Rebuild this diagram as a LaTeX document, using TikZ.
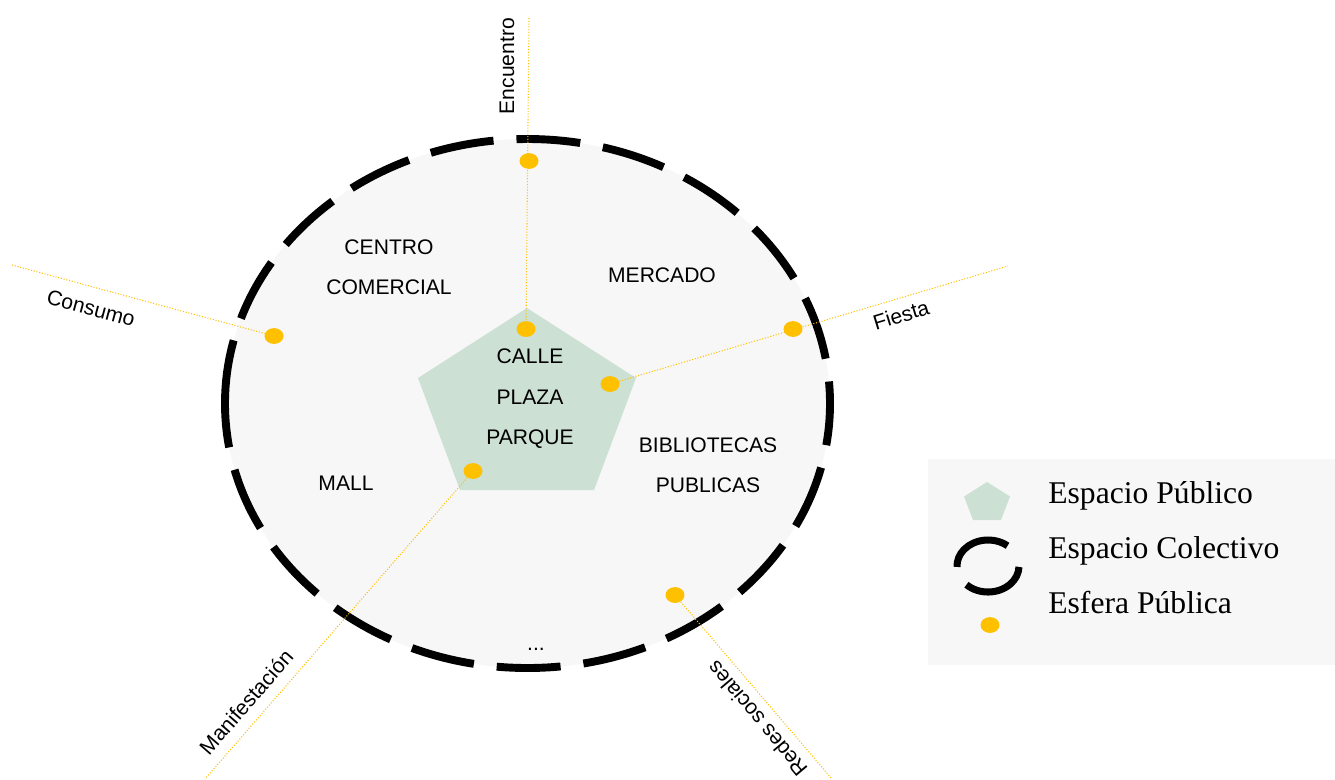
\documentclass[tikz,border=0pt]{standalone}
\usepackage{fontspec}
\setmainfont{Liberation Serif}
\setsansfont{Liberation Sans}
\usepackage{tikz}
\usepackage{xcolor}
\usetikzlibrary{shapes.geometric}

\definecolor{esfera}{HTML}{FFC000}
\definecolor{fondo}{HTML}{F7F7F7}
\definecolor{plaza}{HTML}{CCE0D4}

\begin{document}
\begin{tikzpicture}[x=0.02cm,y=0.02cm,
    punto/.style={ellipse,fill=esfera,inner sep=0pt,minimum width=10.8pt,minimum height=9pt},
    hilo/.style={esfera,densely dotted,line width=0.6pt},
    lugar/.style={font=\sffamily\fontsize{12}{23}\selectfont,align=center},
    eje/.style={font=\sffamily\fontsize{12}{14}\selectfont},
    leyenda/.style={font=\rmfamily\fontsize{18}{20}\selectfont,anchor=base west,inner sep=0pt}]
  \useasboundingbox (0,0) rectangle (1335,-779);
  \draw[fill=fondo,line width=4.5pt,dash pattern=on 36.4pt off 13.1pt]
    (225,-403.5) arc[start angle=180,end angle=-180,x radius=302.5,y radius=264.5];
  \path (527,-308) coordinate (pt) (636,-378) coordinate (pr) (594,-490) coordinate (pbr)
    (460,-490) coordinate (pbl) (418,-378) coordinate (pl);
  \fill[plaza] (pt) -- (pr) -- (pbr) -- (pbl) -- (pl) -- cycle;

  \node[lugar] (centro) at (389,-267.5) {CENTRO\\COMERCIAL};
  \node[lugar] (mercado) at (662,-275) {MERCADO};
  \node[lugar] (calle) at (530,-399) {CALLE\\PLAZA\\PARQUE};
  \node[lugar] (biblio) at (708,-465) {BIBLIOTECAS\\PUBLICAS};
  \node[lugar] (mall) at (346,-483) {MALL};
  \node[lugar] (etc) at (536,-649) {...};

  \node[punto] (enc-out) at (529,-161) {};
  \node[punto] (enc-in) at (526,-329) {};
  \node[punto] (con-out) at (274,-336) {};
  \node[punto] (fie-out) at (793,-329) {};
  \node[punto] (fie-in) at (610,-384) {};
  \node[punto] (man-in) at (473,-471) {};
  \node[punto] (red-out) at (675,-595) {};
  \coordinate (enc-far) at (529,-18);
  \coordinate (con-far) at (12,-265);
  \coordinate (fie-far) at (1008,-266);
  \coordinate (man-far) at (205,-779);
  \coordinate (red-far) at (832,-779);
  \draw[hilo] (enc-far) -- (enc-in);
  \draw[hilo] (con-far) -- (con-out);
  \draw[hilo] (fie-in) -- (fie-far);
  \draw[hilo] (man-in) -- (man-far);
  \draw[hilo] (red-out) -- (red-far);

  \node[eje,rotate=90] (encuentro) at (507,-66) {Encuentro};
  \node[eje,rotate=-15] (consumo) at (91,-308) {Consumo};
  \node[eje,rotate=17] (fiesta) at (901,-315) {Fiesta};
  \node[eje,rotate=49] (manif) at (246,-702) {Manifestación};
  \node[eje,rotate=130] (redes) at (757,-719) {Redes sociales};

  \fill[fondo] (928,-459) rectangle (1335,-665);
  \fill[plaza] (987,-482) -- (1010,-496.5) -- (1001,-520) -- (973,-520) -- (964,-496.5) -- cycle;
  \draw[line width=4pt] (988,-566) ++(51:31 and 26)
    arc[start angle=51,end angle=182,x radius=31,y radius=26];
  \draw[line width=4pt] (988,-566) ++(-134:31 and 26)
    arc[start angle=-134,end angle=-2,x radius=31,y radius=26];
  \node[punto] (ley-esfera) at (990,-625) {};
  \node[leyenda] (ley-publico) at (1048,-503) {Espacio Público};
  \node[leyenda] (ley-colectivo) at (1048,-558) {Espacio Colectivo};
  \node[leyenda] (ley-esfera-txt) at (1048,-613) {Esfera Pública};
\end{tikzpicture}
\end{document}
